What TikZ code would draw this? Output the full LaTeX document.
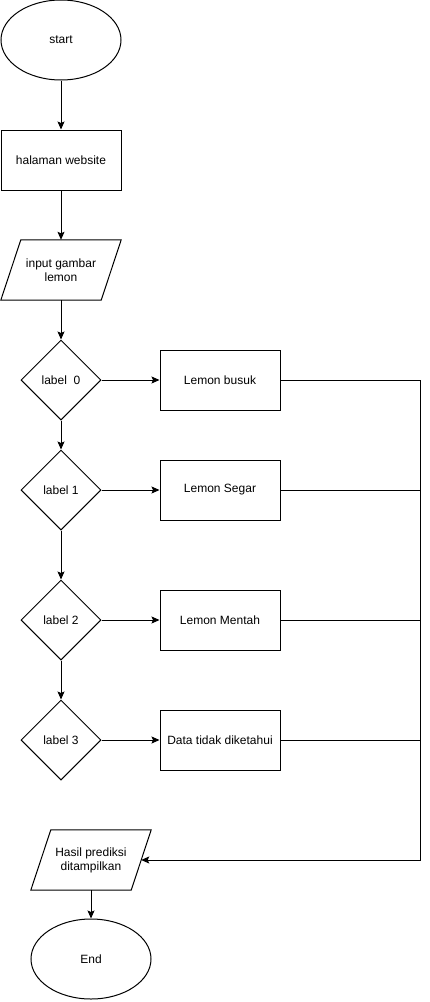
\documentclass[tikz,border=0pt]{standalone}
\usepackage{fontspec}
\setmainfont{Liberation Sans}
\usetikzlibrary{shapes.geometric,arrows.meta,calc}
\begin{document}
\begin{tikzpicture}[x=1pt,y=-1pt,
  every node/.style={font=\fontsize{12}{14}\selectfont, align=center, inner sep=0pt},
  term/.style={ellipse, draw, line width=1pt, minimum width=120pt, minimum height=80pt},
  proc/.style={rectangle, draw, line width=1pt, minimum width=120pt, minimum height=60pt},
  para/.style={rectangle, minimum width=100pt, minimum height=60pt},
  dec/.style={diamond, draw, line width=1pt, minimum width=80pt, minimum height=80pt, aspect=1},
  conn/.style={line width=1pt},
  arr/.style={conn, -{Stealth[length=8pt,width=7pt,inset=1.5pt]}}]
\useasboundingbox (0,0) rectangle (430,1002);
\node[term] (start) at (61,40) {start};
\node[proc] (web) at (61,160) {halaman website};
\node[para] (inp) at (61,270) {input gambar\\lemon};
\draw[line width=1pt] ([xshift=-10pt]inp.south west) -- ([xshift=-10pt]inp.south east) -- ([xshift=10pt]inp.north east) -- ([xshift=10pt]inp.north west) -- cycle;
\node[dec] (d0) at (61,380) {label\ \ 0};
\node[dec] (d1) at (61,490) {label 1};
\node[dec] (d2) at (61,620) {label 2};
\node[dec] (d3) at (61,740) {label 3};
\node[proc] (r0) at (220,380) {Lemon busuk};
\node[proc] (r1) at (220,490) {Lemon Segar};
\node[proc] (r2) at (220,620) {Lemon Mentah};
\node[proc] (r3) at (220,740) {Data tidak diketahui};
\node[para] (out) at (91,860) {Hasil prediksi\\ditampilkan};
\draw[line width=1pt] ([xshift=-10pt]out.south west) -- ([xshift=-10pt]out.south east) -- ([xshift=10pt]out.north east) -- ([xshift=10pt]out.north west) -- cycle;
\node[term] (end) at (91,959) {End};
\coordinate (bus) at (420,860);
\draw[arr] (start) -- (web);
\draw[arr] (web) -- (inp);
\draw[arr] (inp) -- (d0);
\draw[arr] (d0) -- (d1);
\draw[arr] (d1) -- (d2);
\draw[arr] (d2) -- (d3);
\draw[arr] (d0) -- (r0);
\draw[arr] (d1) -- (r1);
\draw[arr] (d2) -- (r2);
\draw[arr] (d3) -- (r3);
\draw[arr] (r0.east) -| (bus) -- (out.east);
\draw[conn] (r1.east) -- (r1.east -| bus);
\draw[conn] (r2.east) -- (r2.east -| bus);
\draw[conn] (r3.east) -- (r3.east -| bus);
\draw[arr] (out) -- (end);
\end{tikzpicture}
\end{document}
